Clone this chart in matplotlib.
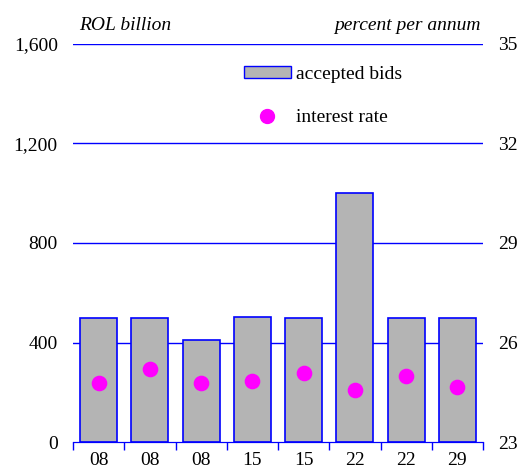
import numpy as np
import matplotlib.pyplot as plt
from matplotlib.patches import Patch
from matplotlib.lines import Line2D

plt.rcParams['font.family'] = ['Liberation Serif', 'DejaVu Serif']

days = ['08', '08', '08', '15', '15', '22', '22', '29']
bids = [500, 500, 410, 502, 500, 1000, 500, 500]
rate = [24.77, 25.2, 24.79, 24.83, 25.07, 24.57, 24.99, 24.66]

blue = '#0000ff'
x = np.arange(len(days))

fig = plt.figure(figsize=(5.19, 4.74), dpi=100)
ax = fig.add_axes([0.1407, 0.0675, 0.79, 0.8397])
ax2 = ax.twinx()

for v in [400, 800, 1200, 1600]:
    ax.axhline(v, color=blue, lw=1, zorder=0)
ax.bar(x, bids, width=0.72, color='#b4b4b4', edgecolor=blue, lw=1.2, zorder=2)
ax2.scatter(x, rate, s=105, color='#ff00ff', zorder=3)

ax.set_xlim(-0.5, len(days) - 0.5)
ax.set_ylim(0, 1600)
ax2.set_ylim(23, 35)
ax.set_yticks([0, 400, 800, 1200, 1600])
ax.set_yticklabels(['0', '400', '800', '1,200', '1,600'])
ax2.set_yticks([23, 26, 29, 32, 35])

ax.set_xticks(x)
ax.set_xticklabels(days)
ax.set_xticks(np.arange(-0.5, len(days)), minor=True)
ax.tick_params(axis='x', which='major', length=0, labelsize=14, pad=7)
ax.tick_params(axis='x', which='minor', length=6, color=blue, width=1)
ax.tick_params(axis='y', length=0, labelsize=14, pad=11)
ax2.tick_params(axis='y', length=0, labelsize=14, pad=11)

for a in (ax, ax2):
    for s in ['top', 'left', 'right']:
        a.spines[s].set_visible(False)
    a.spines['bottom'].set_color(blue)

ax.text(0.015, 1.025, 'ROL billion', transform=ax.transAxes, style='italic',
        fontsize=14, ha='left', va='bottom')
ax.text(0.995, 1.025, 'percent per annum', transform=ax.transAxes, style='italic',
        fontsize=14, ha='right', va='bottom')

handles = [Patch(facecolor='#b4b4b4', edgecolor=blue, lw=1),
           Line2D([], [], marker='o', ls='none', color='#ff00ff', markersize=10)]
fig.legend(handles, ['accepted bids', 'interest rate'], loc='upper left',
           bbox_to_anchor=(0.455, 0.877), frameon=False, fontsize=14,
           borderaxespad=0, handlelength=2.4, handleheight=0.6,
           labelspacing=1.35, handletextpad=0.3)

fig.savefig('out.png', dpi=100)
